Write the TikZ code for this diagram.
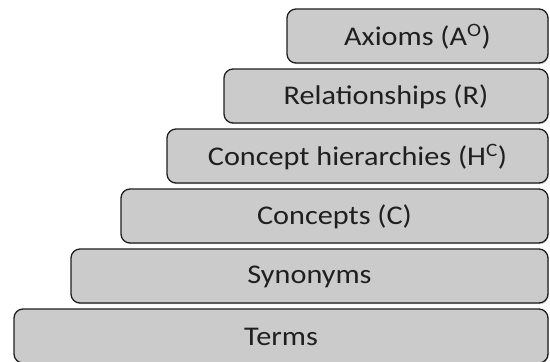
\documentclass[tikz,border=0pt]{standalone}
\usepackage{fontspec}
\setmainfont{Carlito}[FakeStretch=1.12]
\usetikzlibrary{shadows}
\definecolor{boxfill}{HTML}{CBCBCB}
\definecolor{boxline}{HTML}{1E1E1E}
\begin{document}
\begin{tikzpicture}[x=1pt,y=-1pt,
  layer/.style={draw=boxline, line width=1.3pt, fill=boxfill, rounded corners=9pt,
    drop shadow={shadow xshift=0.8pt, shadow yshift=-1.2pt, opacity=0.35}},
  lbl/.style={font=\fontsize{27}{30}\selectfont, text=black!88, anchor=center}]
\useasboundingbox (0,0) rectangle (550,362);
\newcommand{\layerbox}[5]{%
  \draw[layer] (#1,#2) rectangle (548,#2+54);
  \node[lbl] (#4) at ({(#1+548)/2},#2+28) {#5};}
\layerbox{287}{9}{}{axioms}{Axioms (A\textsuperscript{O})}
\layerbox{224}{69}{}{rel}{Relationships (R)}
\layerbox{167}{129}{}{hier}{Concept hierarchies (H\textsuperscript{C})}
\layerbox{121}{189}{}{conc}{Concepts (C)}
\layerbox{71}{249}{}{syn}{Synonyms}
\layerbox{14}{309}{}{terms}{Terms}
\end{tikzpicture}
\end{document}
